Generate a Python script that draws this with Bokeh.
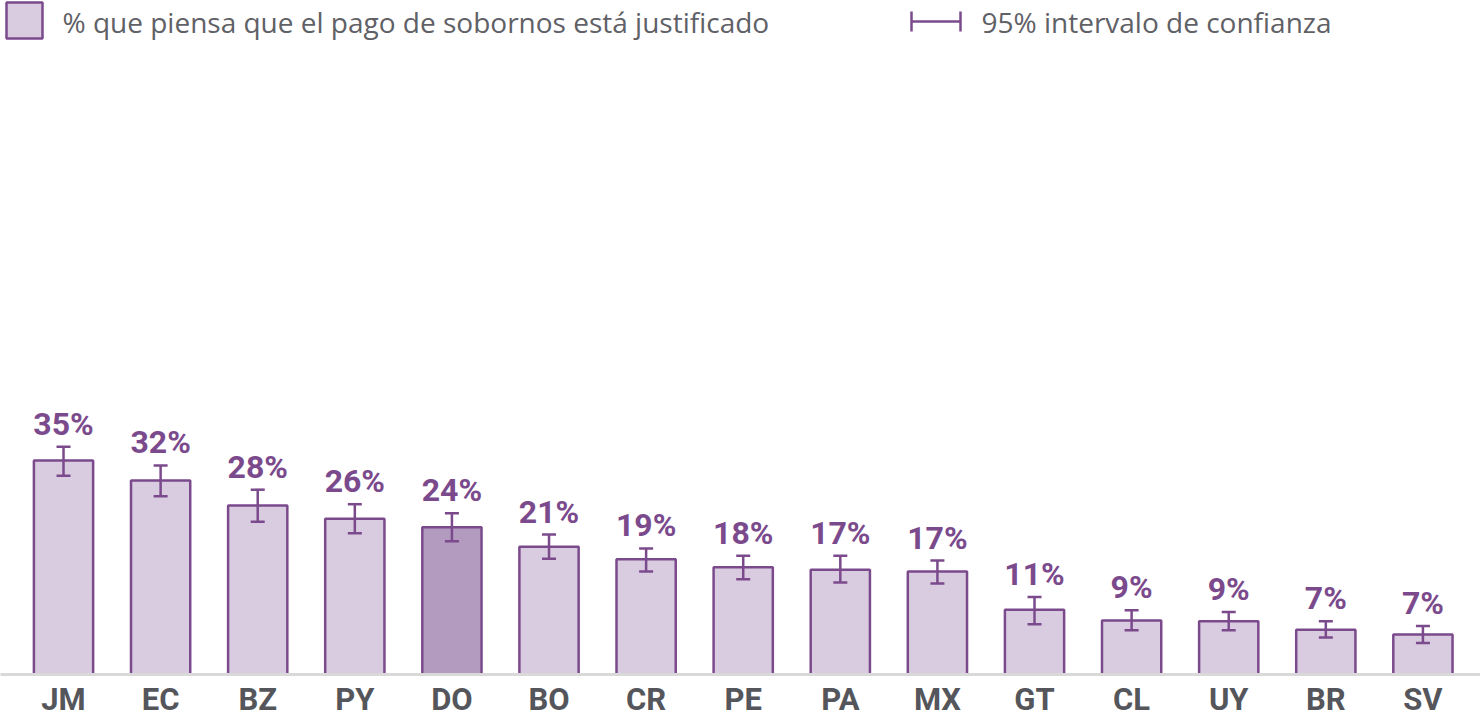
from bokeh.plotting import figure
from bokeh.models import (ColumnDataSource, Range1d, FixedTicker, Whisker, TeeHead,
                          LabelSet, Label, BoxAnnotation)
from bokeh.layouts import column
from bokeh.embed import file_html
from bokeh.resources import INLINE
from bokeh.core.properties import value

# ---- data ----
countries = ["JM", "EC", "BZ", "PY", "DO", "BO", "CR", "PE", "PA", "MX", "GT", "CL", "UY", "BR", "SV"]
pct = [35.3, 32.0, 27.9, 25.7, 24.3, 21.1, 19.0, 17.7, 17.3, 17.0, 10.7, 8.9, 8.8, 7.4, 6.6]
ci_low = [32.8, 29.4, 25.2, 23.3, 22.0, 19.1, 17.0, 15.7, 15.2, 15.0, 8.3, 7.3, 7.3, 6.1, 5.2]
ci_high = [37.6, 34.5, 30.5, 28.1, 26.6, 23.1, 20.8, 19.6, 19.6, 18.8, 12.8, 10.6, 10.3, 8.8, 8.0]
highlight = "DO"
legend_bar = "% que piensa que el pago de sobornos está justificado"
legend_ci = "95% intervalo de confianza"

# ---- styles ----
PURPLE = "#7b4a8c"
LIGHT = "#d9cce0"
DARK = "#b39bbf"
GREY_TXT = "#5f6166"
AXIS_TXT = "#55565b"

W = 1480
LEG_H = 68

xs = list(range(len(countries)))
src = ColumnDataSource(dict(
    x=xs, top=pct, lo=ci_low, hi=ci_high,
    fill=[DARK if c == highlight else LIGHT for c in countries],
    label=[f"{round(v)}%" for v in pct],
))

# ---- legend strip ----
leg = figure(width=W, height=LEG_H, output_backend="svg", toolbar_location=None,
             x_range=Range1d(0, W), y_range=Range1d(LEG_H, 0),
             x_axis_location=None, y_axis_location=None,
             min_border=0, outline_line_color=None)
leg.grid.visible = False
leg.add_layout(BoxAnnotation(left=6, right=42, top=2, bottom=38,
                             fill_color=LIGHT, fill_alpha=1,
                             line_color=PURPLE, line_width=2.5, line_alpha=1))
leg.add_layout(Label(x=62, y=21, text=legend_bar, text_baseline="middle",
                     text_font="Open Sans", text_font_size="28px", text_color=GREY_TXT))
leg.segment(x0=[911, 911, 960], y0=[21, 11, 11], x1=[960, 911, 960], y1=[21, 31, 31],
            line_color=PURPLE, line_width=2.5)
leg.add_layout(Label(x=981, y=21, text=legend_ci, text_baseline="middle",
                     text_font="Open Sans", text_font_size="28px", text_color=GREY_TXT))

# ---- main chart ----
p = figure(width=W, height=653, output_backend="svg", toolbar_location=None,
           x_range=Range1d(-0.649, 14.593), y_range=Range1d(0, 100),
           y_axis_location=None, min_border_left=0, min_border_right=0,
           min_border_top=0, min_border_bottom=47, outline_line_color=None)
p.grid.visible = False

p.vbar(x="x", top="top", bottom=0, width=0.61, source=src,
       fill_color="fill", line_color=PURPLE, line_width=2.5)

head_kw = dict(size=14, line_color=PURPLE, line_width=2.5)
p.add_layout(Whisker(source=src, base="x", lower="lo", upper="hi",
                     line_color=PURPLE, line_width=2.5, level="overlay",
                     lower_head=TeeHead(**head_kw), upper_head=TeeHead(**head_kw)))

p.add_layout(LabelSet(x="x", y="hi", text="label", source=src, y_offset=12,
                      text_align="center", text_baseline="alphabetic",
                      text_font=value("Roboto"), text_font_style="bold",
                      text_font_size="32px", text_color=PURPLE))

ax = p.xaxis[0]
ax.ticker = FixedTicker(ticks=xs)
ax.major_label_overrides = {i: c for i, c in zip(xs, countries)}
ax.major_tick_line_color = None
ax.minor_tick_line_color = None
ax.axis_line_color = "#d9d9d9"
ax.axis_line_width = 3
ax.major_label_standoff = 0
ax.major_label_text_font = "Roboto"
ax.major_label_text_font_style = "bold"
ax.major_label_text_font_size = "31px"
ax.major_label_text_color = AXIS_TXT

layout = column(leg, p, spacing=0)
open("out.html", "w").write(file_html(layout, INLINE))
